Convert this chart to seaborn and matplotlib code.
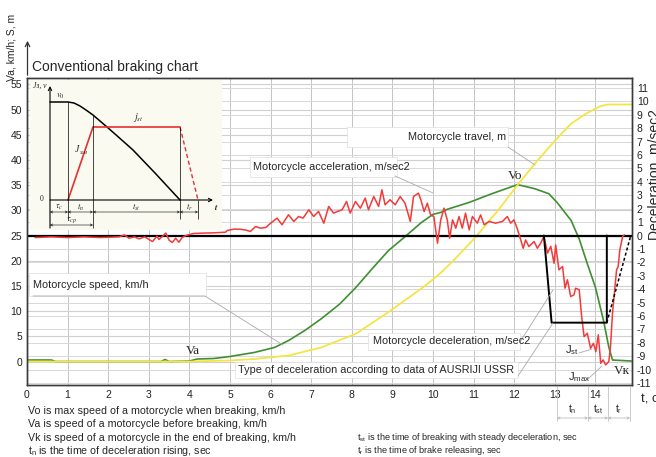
import seaborn as sns
import matplotlib.pyplot as plt
from matplotlib.lines import Line2D
from matplotlib.patches import Rectangle, FancyArrowPatch

# motorcycle speed, km/h (left axis)
speed_t = [0, 0.6, 0.7, 3.3, 3.4, 3.5, 4.0, 4.2, 4.6, 5.0, 5.6, 6.1, 6.45, 6.85, 7.25, 7.7,
           8.1, 8.5, 8.9, 9.3, 9.7, 10.0, 10.2, 10.35, 10.9, 11.45, 12.08, 12.5, 12.85, 13.05,
           13.4, 13.6, 13.8, 14.0, 14.2, 14.33, 14.42, 14.88]
speed_kmh = [0.3, 0.3, 0.0, 0.0, 0.4, 0.0, 0.1, 0.5, 0.6, 1.0, 1.8, 2.8, 4.2, 6.2, 8.5, 11.4,
             14.7, 18.4, 22.0, 24.7, 27.5, 29.2, 29.6, 30.2, 31.6, 33.3, 35.1, 34.3, 33.3, 31.6,
             28.0, 24.3, 19.4, 14.7, 8.1, 2.8, 0.3, 0.1]

# motorcycle travel, m (left axis)
travel_t = [0, 4.0, 5.0, 5.6, 6.45, 7.25, 8.1, 8.9, 9.75, 10.15, 10.5, 11.05, 11.6, 12.1,
            12.5, 13.0, 13.4, 13.75, 14.1, 14.3, 14.88]
travel_m = [0, 0, 0.2, 0.5, 1.2, 2.8, 5.5, 9.8, 14.7, 17.3, 20.0, 24.7, 30.0, 35.2,
            39.2, 43.8, 47.2, 49.1, 50.6, 51.0, 51.0]

# measured acceleration / deceleration, m/sec2 (right axis)
accel_t = [0.2, 0.6, 1.0, 1.4, 1.8, 2.27, 2.4, 2.51, 2.65, 2.76, 2.9, 3.09, 3.2, 3.25, 3.42,
           3.5, 3.58, 3.66, 3.74, 3.82, 3.91, 4.1, 4.32, 4.6, 4.89, 4.93, 5.1, 5.25, 5.4, 5.5,
           5.63, 5.75, 5.88, 6.0, 6.16, 6.28, 6.44, 6.57, 6.69, 6.8, 6.94, 7.06, 7.18, 7.31,
           7.43, 7.55, 7.65, 7.76, 7.87, 7.96, 8.09, 8.21, 8.33, 8.41, 8.54, 8.66, 8.74, 8.82,
           8.94, 9.07, 9.19, 9.31, 9.44, 9.52, 9.64, 9.7, 9.78, 9.86, 9.94, 10.02, 10.11, 10.19,
           10.27, 10.35, 10.41, 10.48, 10.56, 10.64, 10.72, 10.8, 10.89, 10.97, 11.09, 11.17,
           11.26, 11.38, 11.54, 11.71, 11.83, 11.91, 11.99, 12.07, 12.16, 12.22, 12.28, 12.36,
           12.49, 12.57, 12.65, 12.73, 12.82, 12.9, 12.98, 13.02, 13.1, 13.19, 13.25, 13.31,
           13.39, 13.47, 13.51, 13.6, 13.66, 13.72, 13.8, 13.88, 13.95, 14.01, 14.07, 14.13,
           14.19, 14.25, 14.33, 14.37, 14.42, 14.48, 14.52, 14.56, 14.6, 14.67, 14.71]
accel_ms2 = [-0.15, -0.1, -0.15, -0.1, -0.15, -0.1, 0.05, -0.2, -0.1, -0.25, -0.1, -0.45, -0.05,
             -0.3, 0.18, -0.35, -0.52, -0.2, -0.5, -0.15, 0.0, 0.15, 0.18, 0.2, 0.25, 0.37, 0.48,
             0.47, 0.4, 0.3, 0.67, 0.55, 0.6, 0.92, 1.3, 0.8, 1.55, 1.05, 1.42, 1.3, 1.92, 1.42,
             1.8, 0.92, 2.17, 1.67, 1.8, 1.92, 2.54, 1.67, 2.54, 2.04, 2.79, 1.92, 2.91, 2.17,
             3.41, 2.29, 2.67, 2.29, 2.91, 2.41, 1.05, 2.91, 3.16, 2.67, 1.79, 2.41, 1.54, 1.42,
             -0.57, 1.17, 2.04, 1.17, -0.2, 1.17, 0.55, 1.42, 0.55, 1.67, 0.42, 1.42, 0.92, 1.54,
             0.8, 1.05, 0.92, 1.05, 1.42, 0.92, 1.17, 0.55, -0.33, -0.95, -0.33, -0.82, -0.45,
             -0.95, -0.57, -0.07, -1.31, -0.81, -2.07, -0.7, -2.56, -2.31, -3.93, -3.3, -4.55,
             -4.43, -3.93, -4.05, -6.04, -7.54, -7.29, -8.41, -8.04, -8.66, -7.41, -9.53, -9.28,
             -9.65, -9.4, -8.29, -5.8, -3.81, -2.56, -2.31, -1.07, -0.07, 0.05]

# type of deceleration (AUSRIJI USSR), m/sec2
decel_t = [12.73, 12.92, 14.28, 14.28]
decel_ms2 = [0, -6.5, -6.5, 0]
release_t = [14.28, 14.87]
release_ms2 = [-6.5, 0]

x_ticks = list(range(0, 15))
left_ticks = list(range(0, 60, 5))
right_ticks = list(range(-11, 12))

# schematic "conventional braking chart"
sch_v_t = [0, 1.8, 2.4, 3.0, 3.6, 4.3, 5.0, 5.7, 6.5, 8.3, 10.5, 13.0]
sch_v = [9.8, 9.8, 9.7, 9.4, 9.0, 8.5, 7.9, 7.3, 6.6, 5.0, 2.7, 0]
sch_j_t = [1.8, 4.3, 13.0]
sch_j = [0, 7.3, 7.3]
sch_rel_t = [13.0, 14.8]
sch_rel = [7.3, 0]
sch_bounds = [0, 1.8, 4.3, 13.0, 14.8]
sch_labels = [r'$\tau_c$', r'$t_n$', r'$t_{st}$', r'$t_r$']

notes_left = ['Vo is max speed of a motorcycle when breaking, km/h',
              'Va is speed of a motorcycle before breaking, km/h',
              'Vk is speed of a motorcycle in the end of breaking, km/h',
              r'$\mathregular{t_n}$ is the time of deceleration rising, sec']
notes_right = [r'$\mathregular{t_{st}}$ is the time of breaking with steady deceleration, sec',
               r'$\mathregular{t_r}$ is the time of brake releasing, sec']

sns.set_style('white')
plt.rcParams['font.family'] = ['Liberation Sans', 'DejaVu Sans']
plt.rcParams['axes.unicode_minus'] = False
plt.rcParams['mathtext.fontset'] = 'stix'

W, H = 656, 457


def px(x, y):
    return x / W, 1 - y / H


fig = plt.figure(figsize=(W / 100, H / 100), dpi=100)
ax = fig.add_axes([27 / W, 1 - 385 / H, 605 / W, 307 / H])
ax2 = ax.twinx()

green = '#3f8f30'
yellow = '#f4e545'
red = '#f23a3a'

sns.lineplot(x=speed_t, y=speed_kmh, ax=ax, color=green, lw=1.2, estimator=None, sort=False)
sns.lineplot(x=travel_t, y=travel_m, ax=ax, color=yellow, lw=1.3, estimator=None, sort=False)
ax2.axhline(0, color='black', lw=1.6, zorder=2)
sns.lineplot(x=accel_t, y=accel_ms2, ax=ax2, color=red, lw=1.1, estimator=None, sort=False)
sns.lineplot(x=decel_t, y=decel_ms2, ax=ax2, color='black', lw=1.4, estimator=None, sort=False)
sns.lineplot(x=release_t, y=release_ms2, ax=ax2, color='black', lw=1.1,
             linestyle=(0, (2, 1.5)), estimator=None, sort=False)

ax.set_xlim(0, 14.9)
ax2.set_ylim(-11.15, 11.75)
ax.set_ylim(25 - 11.15 * 2.66, 25 + 11.75 * 2.66)
ax.set_xticks(x_ticks)
ax.set_yticks(left_ticks)
ax2.set_yticks(right_ticks)
for a in (ax, ax2):
    a.set_xlabel('')
    a.set_ylabel('')
    for s in a.spines.values():
        s.set_color('#3a3a3a')
        s.set_linewidth(1.0)
ax.tick_params(axis='both', labelsize=7.5, length=0, pad=3.5, labelcolor='#222222')
ax2.tick_params(axis='y', labelsize=7.5, length=0, pad=3.5, labelcolor='#222222')

# grid: vertical lines, left-axis lines and right-axis lines (all under the curves)
for xv in x_ticks[1:]:
    ax.axvline(xv, color='#c4c4c4', lw=0.7, zorder=0)
for yv in left_ticks:
    ax.axhline(yv, color='#d0d0d0', lw=0.8, zorder=0)
for r in right_ticks:
    yl = ax.transData.inverted().transform(ax2.transData.transform((0, r)))[1]
    ax.axhline(yl, color='#d8d8d8', lw=0.7, zorder=0)

# y axis arrow, titles
fig.add_artist(FancyArrowPatch(px(27.5, 78), px(27.5, 38), transform=fig.transFigure,
                               arrowstyle='->', mutation_scale=8, lw=0.9, color='#333333'))
fig.text(*px(12, 47), 'Va, km/h; S, m', rotation=90, ha='center', va='center', fontsize=7.5)
fig.text(*px(32, 67), 'Conventional braking chart', ha='left', va='center', fontsize=10)
fig.text(*px(655, 175), 'Deceleration, m/sec2', rotation=90, ha='center', va='center', fontsize=10)
fig.text(*px(641, 399), 't, c', ha='left', va='center', fontsize=9.5)

# callout boxes
boxes = [((347, 127, 508, 147), 'Motorcycle travel, m', 506, 'right'),
         ((250, 157, 397, 177), 'Motorcycle acceleration, m/sec2', 253, 'left'),
         ((29, 273, 206, 296), 'Motorcycle speed, km/h', 33, 'left'),
         ((368, 333, 520, 350), 'Motorcycle deceleration, m/sec2', 373, 'left'),
         ((235, 362, 518, 378), 'Type of deceleration according to data of AUSRIJI USSR', 238, 'left')]
for (x0, y0, x1, y1), label, tx, ha in boxes:
    fig.add_artist(Rectangle(px(x0, y1), (x1 - x0) / W, (y1 - y0) / H, transform=fig.transFigure,
                             fc='white', ec='#dedede', lw=0.5, zorder=2.5))
    fig.text(*px(tx, (y0 + y1) / 2), label, ha=ha, va='center', fontsize=7.8, zorder=3)

leaders = [([508, 535], [147, 165]), ([395, 433], [176, 193]), ([33, 205, 283], [296, 296, 345]),
           ([520, 553], [342, 290]), ([518, 553], [376, 323]), ([579, 592], [353, 349]),
           ([587, 602], [380, 366])]
for xs, ys in leaders:
    fig.add_artist(Line2D([x / W for x in xs], [1 - y / H for y in ys], transform=fig.transFigure,
                          color='#a9a9a9', lw=0.6, zorder=2.6))

for label, (x, y) in [('Vo', (515, 176)), ('Va', (193, 351)), ('Vк', (622, 371))]:
    fig.text(*px(x, y), label, family='Liberation Serif', fontsize=9.5, ha='center', va='center')
fig.text(*px(572, 350), r'$\mathregular{J_{st}}$', fontsize=8, ha='center', va='center')
fig.text(*px(579, 377), r'$\mathregular{J_{max}}$', fontsize=8, ha='center', va='center')

# time intervals under the axis
for xb in [557, 588, 608, 630]:
    fig.add_artist(Line2D([xb / W] * 2, [1 - 386 / H, 1 - 421 / H], transform=fig.transFigure,
                          color='#b8b8b8', lw=0.5))
for (xa, xb), lab in zip([(557, 588), (588, 608), (608, 630)],
                         [r'$\mathregular{t_n}$', r'$\mathregular{t_{st}}$', r'$\mathregular{t_r}$']):
    fig.add_artist(FancyArrowPatch(px(xa, 418), px(xb, 418), transform=fig.transFigure,
                                   arrowstyle='<->', mutation_scale=4, lw=0.5, color='#b0b0b0',
                                   shrinkA=0, shrinkB=0))
    fig.text(*px((xa + xb) / 2, 409), lab, fontsize=7.5, ha='center', va='center')

for i, line in enumerate(notes_left):
    fig.text(*px(28, 411 + 13.3 * i), line, fontsize=7.7, ha='left', va='center')
for i, line in enumerate(notes_right):
    fig.text(*px(357, 437.6 + 13.3 * i), line, fontsize=6.6, ha='left', va='center')

# inset schematic
axi = fig.add_axes([30 / W, 1 - 230 / H, 192 / W, 150 / H])
axi.set_facecolor('#fbfaf1')
axi.set_xticks([])
axi.set_yticks([])
for s in axi.spines.values():
    s.set_visible(False)
axi.set_xlim(-2, 17.2)
axi.set_ylim(-3, 12)
arrow = dict(arrowstyle='->', lw=0.8, color='black', mutation_scale=6, shrinkA=0, shrinkB=0)
axi.annotate('', xy=(0, 11.4), xytext=(0, -2.8), arrowprops=arrow)
axi.annotate('', xy=(16.3, 0), xytext=(0, 0), arrowprops=arrow)
sns.lineplot(x=sch_v_t, y=sch_v, ax=axi, color='black', lw=1.1, estimator=None, sort=False)
sns.lineplot(x=sch_j_t, y=sch_j, ax=axi, color='#e53030', lw=1.2, estimator=None, sort=False)
sns.lineplot(x=sch_rel_t, y=sch_rel, ax=axi, color='#e53030', lw=1.0, linestyle=(0, (3, 2)),
             estimator=None, sort=False)
axi.vlines([1.8, 4.3, 13.0, 14.8], [-1.9, -2.8, -1.9, -1.9], [9.8, 8.5, 7.3, 0],
           color='black', lw=0.5)
dim = dict(arrowstyle='<->', lw=0.4, color='black', mutation_scale=4, shrinkA=0, shrinkB=0)
for (a, b), lab in zip(zip(sch_bounds[:-1], sch_bounds[1:]), sch_labels):
    axi.annotate('', xy=(a, -1.2), xytext=(b, -1.2), arrowprops=dim)
    axi.text((a + b) / 2, -0.7, lab, fontsize=6, ha='center', va='center')
axi.annotate('', xy=(0, -2.5), xytext=(4.3, -2.5), arrowprops=dim)
axi.text(2.15, -2.0, r'$\tau_{cp}$', fontsize=6, ha='center', va='center')
axi.text(-0.6, 0.1, '0', fontsize=5.5, ha='right', va='center', family='Liberation Serif')
axi.text(16.6, -0.8, r'$\boldsymbol{t}$', fontsize=6.5, ha='center', va='center')
axi.text(-1.7, 11.4, 'Jз, v', fontsize=5.5, style='italic', family='Liberation Serif',
         ha='left', va='center')
axi.text(1.0, 10.4, r'$v_0$', fontsize=6.5, ha='center', va='center')
axi.text(8.8, 8.2, r'$j_{st}$', fontsize=7, ha='center', va='center')
axi.text(2.9, 5.0, 'J', fontsize=7, style='italic', family='Liberation Serif', ha='right', va='center')
axi.text(2.9, 4.7, 'з.н', fontsize=5, style='italic', family='Liberation Serif', ha='left', va='center')
axi.set_xlabel('')
axi.set_ylabel('')

fig.savefig('out.png', dpi=100)
